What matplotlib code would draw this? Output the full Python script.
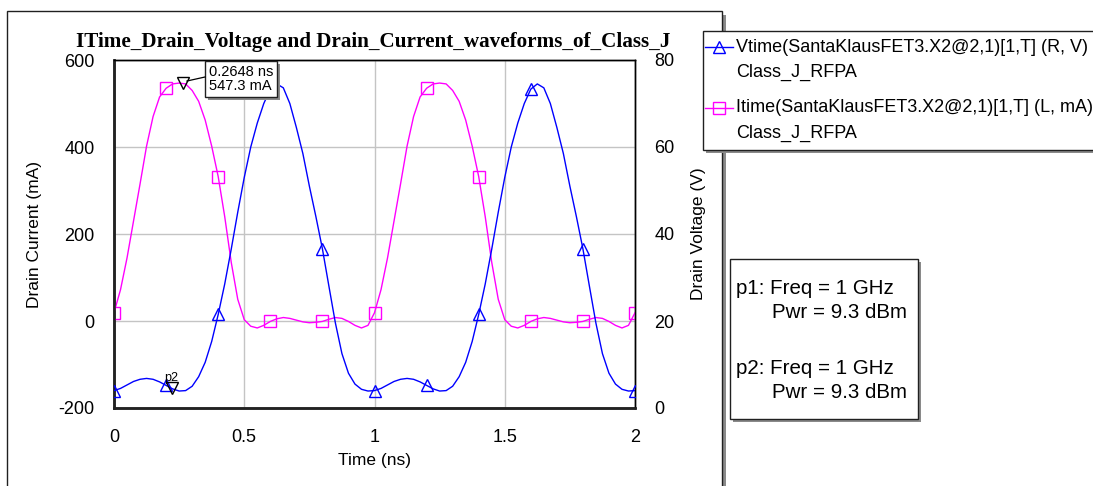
import matplotlib
matplotlib.use("Agg")
import matplotlib.pyplot as plt
from matplotlib.patches import Rectangle
from matplotlib.lines import Line2D

# ---------------- data ----------------
time_ns = [0.000, 0.025, 0.050, 0.075, 0.100, 0.125, 0.150, 0.175, 0.200, 0.225,
           0.250, 0.275, 0.300, 0.325, 0.350, 0.375, 0.400, 0.425, 0.450, 0.475,
           0.500, 0.525, 0.550, 0.575, 0.600, 0.625, 0.650, 0.675, 0.700, 0.725,
           0.750, 0.775, 0.800, 0.825, 0.850, 0.875, 0.900, 0.925, 0.950, 0.975,
           1.000, 1.025, 1.050, 1.075, 1.100, 1.125, 1.150, 1.175, 1.200, 1.225,
           1.250, 1.275, 1.300, 1.325, 1.350, 1.375, 1.400, 1.425, 1.450, 1.475,
           1.500, 1.525, 1.550, 1.575, 1.600, 1.625, 1.650, 1.675, 1.700, 1.725,
           1.750, 1.775, 1.800, 1.825, 1.850, 1.875, 1.900, 1.925, 1.950, 1.975,
           2.000]

drain_current_mA = [19, 72, 145, 230, 315, 402, 470, 515, 535, 545,
                    547, 545, 530, 505, 462, 402, 332, 240, 135, 50,
                    3, -12, -16, -10, -1, 5, 8, 6, 2, -2,
                    -4, -3, -1, 4, 8, 6, -1, -10, -16, -10,
                    19, 72, 145, 230, 315, 402, 470, 515, 535, 545,
                    547, 545, 530, 505, 462, 402, 332, 240, 135, 50,
                    3, -12, -16, -10, -1, 5, 8, 6, 2, -2,
                    -4, -3, -1, 4, 8, 6, -1, -10, -16, -10,
                    19]

drain_voltage_V = [4.0, 4.5, 5.3, 6.1, 6.6, 6.8, 6.6, 6.0, 5.2, 4.4,
                   3.9, 4.0, 5.0, 7.2, 10.5, 15.3, 21.5, 28.5, 36.5, 45.0,
                   53.0, 60.0, 65.5, 70.0, 73.3, 74.5, 73.6, 70.0, 64.5, 58.5,
                   51.0, 44.0, 36.6, 28.0, 19.5, 12.5, 8.0, 5.5, 4.3, 3.9,
                   4.0, 4.5, 5.3, 6.1, 6.6, 6.8, 6.6, 6.0, 5.2, 4.4,
                   3.9, 4.0, 5.0, 7.2, 10.5, 15.3, 21.5, 28.5, 36.5, 45.0,
                   53.0, 60.0, 65.5, 70.0, 73.3, 74.5, 73.6, 70.0, 64.5, 58.5,
                   51.0, 44.0, 36.6, 28.0, 19.5, 12.5, 8.0, 5.5, 4.3, 3.9,
                   4.0]

x_ticks = [0, 0.5, 1, 1.5, 2]
x_tick_labels = ["0", "0.5", "1", "1.5", "2"]
left_ticks = [-200, 0, 200, 400, 600]
right_ticks = [0, 20, 40, 60, 80]

p1_t, p1_I = 0.2648, 547.3
p2_t, p2_V = 0.221, 4.5

title = "ITime_Drain_Voltage and Drain_Current_waveforms_of_Class_J"
legend_v = ["Vtime(SantaKlausFET3.X2@2,1)[1,T] (R, V)", "Class_J_RFPA"]
legend_i = ["Itime(SantaKlausFET3.X2@2,1)[1,T] (L, mA)", "Class_J_RFPA"]
marker_lines = ["p1: Freq = 1 GHz", "Pwr = 9.3 dBm", "p2: Freq = 1 GHz", "Pwr = 9.3 dBm"]

BLUE = '#0000ff'
MAGENTA = '#ff00ff'

# ---------------- figure ----------------
W, H = 1093, 486
plt.rcParams['font.family'] = ['Liberation Sans', 'DejaVu Sans']
plt.rcParams['axes.unicode_minus'] = False
fig = plt.figure(figsize=(W / 100, H / 100), dpi=100)

def fx(px):
    return px / W

def fy(py):
    return 1 - py / H

def box(x0, y0, x1, y1, shadow=3, z=0):
    fig.patches.append(Rectangle((fx(x0 + shadow), fy(y1 + shadow)),
                                 fx(x1) - fx(x0), fy(y0) - fy(y1),
                                 transform=fig.transFigure, facecolor='#8a8a8a',
                                 edgecolor='none', zorder=z))
    fig.patches.append(Rectangle((fx(x0), fy(y1)), fx(x1) - fx(x0), fy(y0) - fy(y1),
                                 transform=fig.transFigure, facecolor='white',
                                 edgecolor='#202020', lw=1.0, zorder=z + 0.1))

# outer panel
box(7, 11, 722, 520, shadow=4, z=0)
# legend panel
box(703, 31, 1110, 150, shadow=3, z=1)
# marker panel
box(730, 259, 918, 419, shadow=3, z=1)

ax_l, ax_t, ax_r, ax_b = 114, 60, 635, 408
ax = fig.add_axes([fx(ax_l), fy(ax_b), fx(ax_r) - fx(ax_l), fy(ax_t) - fy(ax_b)])
ax.set_zorder(2)
ax.patch.set_alpha(0)
ax2 = ax.twinx()

ax.set_xlim(0, 2)
ax.set_ylim(-200, 600)
ax2.set_ylim(0, 80)

ax.grid(True, color='#c4c4c4', lw=1.0)
ax.set_axisbelow(True)

ax.plot(time_ns, drain_current_mA, color=MAGENTA, lw=1.0, marker='s', markevery=8,
        markersize=8, markerfacecolor='none', markeredgecolor=MAGENTA, markeredgewidth=1.0,
        zorder=3)
ax2.plot(time_ns, drain_voltage_V, color=BLUE, lw=1.0, marker='^', markevery=8,
         markersize=9, markerfacecolor='none', markeredgecolor=BLUE, markeredgewidth=1.0,
         zorder=3)

# markers p1 / p2
ax.plot([p1_t], [p1_I], marker='v', markersize=8, markerfacecolor='none',
        markeredgecolor='black', markeredgewidth=1.0, zorder=5, clip_on=False)
ax2.plot([p2_t], [p2_V], marker='v', markersize=8, markerfacecolor='none',
         markeredgecolor='black', markeredgewidth=1.0, zorder=5)
ax2.text(p2_t, p2_V + 1.0, "p2", fontsize=9, ha='center', va='bottom', color='black', zorder=6)

# p1 readout box
box(205, 61, 277, 97, shadow=3, z=5)
fig.lines.append(Line2D([fx(187), fx(205)], [fy(81), fy(77)], transform=fig.transFigure,
                        color='black', lw=0.9, zorder=6))
fig.text(fx(209), fy(79), f"{p1_t:.4f} ns\n{p1_I:.1f} mA", fontsize=10.5,
         ha='left', va='center', linespacing=1.05, zorder=7)

ax.set_xticks(x_ticks)
ax.set_xticklabels(x_tick_labels)
ax.set_yticks(left_ticks)
ax2.set_yticks(right_ticks)
ax.tick_params(axis='x', length=0, pad=15, labelsize=13)
ax.tick_params(axis='y', length=0, pad=14, labelsize=13)
ax2.tick_params(axis='y', length=0, pad=14, labelsize=13)

for a in (ax, ax2):
    for s in ('top', 'right'):
        a.spines[s].set_linewidth(1.0)
        a.spines[s].set_color('black')
    for s in ('left', 'bottom'):
        a.spines[s].set_linewidth(1.8)
        a.spines[s].set_color('#222222')

ax.set_xlabel("Time (ns)", fontsize=12.5, labelpad=5)
ax.set_ylabel("Drain Current (mA)", fontsize=12.5, labelpad=12)
ax2.set_ylabel("Drain Voltage (V)", fontsize=12.5, labelpad=12)

fig.text(fx(373), fy(42), title, fontsize=15.2, fontweight='bold',
         family='Liberation Serif', ha='center', va='center')

# legend entries
def legend_entry(y, color, marker, lines):
    fig.lines.append(Line2D([fx(705), fx(733)], [fy(y), fy(y)], transform=fig.transFigure,
                            color=color, lw=1.0, zorder=3))
    fig.lines.append(Line2D([fx(719)], [fy(y)], transform=fig.transFigure, marker=marker,
                            markersize=8, markerfacecolor='none', markeredgecolor=color,
                            markeredgewidth=1.0, zorder=3))
    fig.text(fx(736), fy(y), lines[0], fontsize=13, ha='left', va='center', zorder=3)
    fig.text(fx(736), fy(y + 25), lines[1], fontsize=13, ha='left', va='center', zorder=3)

legend_entry(47, BLUE, '^', legend_v)
legend_entry(108, MAGENTA, 's', legend_i)

# marker info panel
fs_m = 14.8
fig.text(fx(736), fy(288), marker_lines[0], fontsize=fs_m, ha='left', va='center', zorder=3)
fig.text(fx(772), fy(312), marker_lines[1], fontsize=fs_m, ha='left', va='center', zorder=3)
fig.text(fx(736), fy(368), marker_lines[2], fontsize=fs_m, ha='left', va='center', zorder=3)
fig.text(fx(772), fy(392), marker_lines[3], fontsize=fs_m, ha='left', va='center', zorder=3)

plt.savefig("out.png", dpi=100)
